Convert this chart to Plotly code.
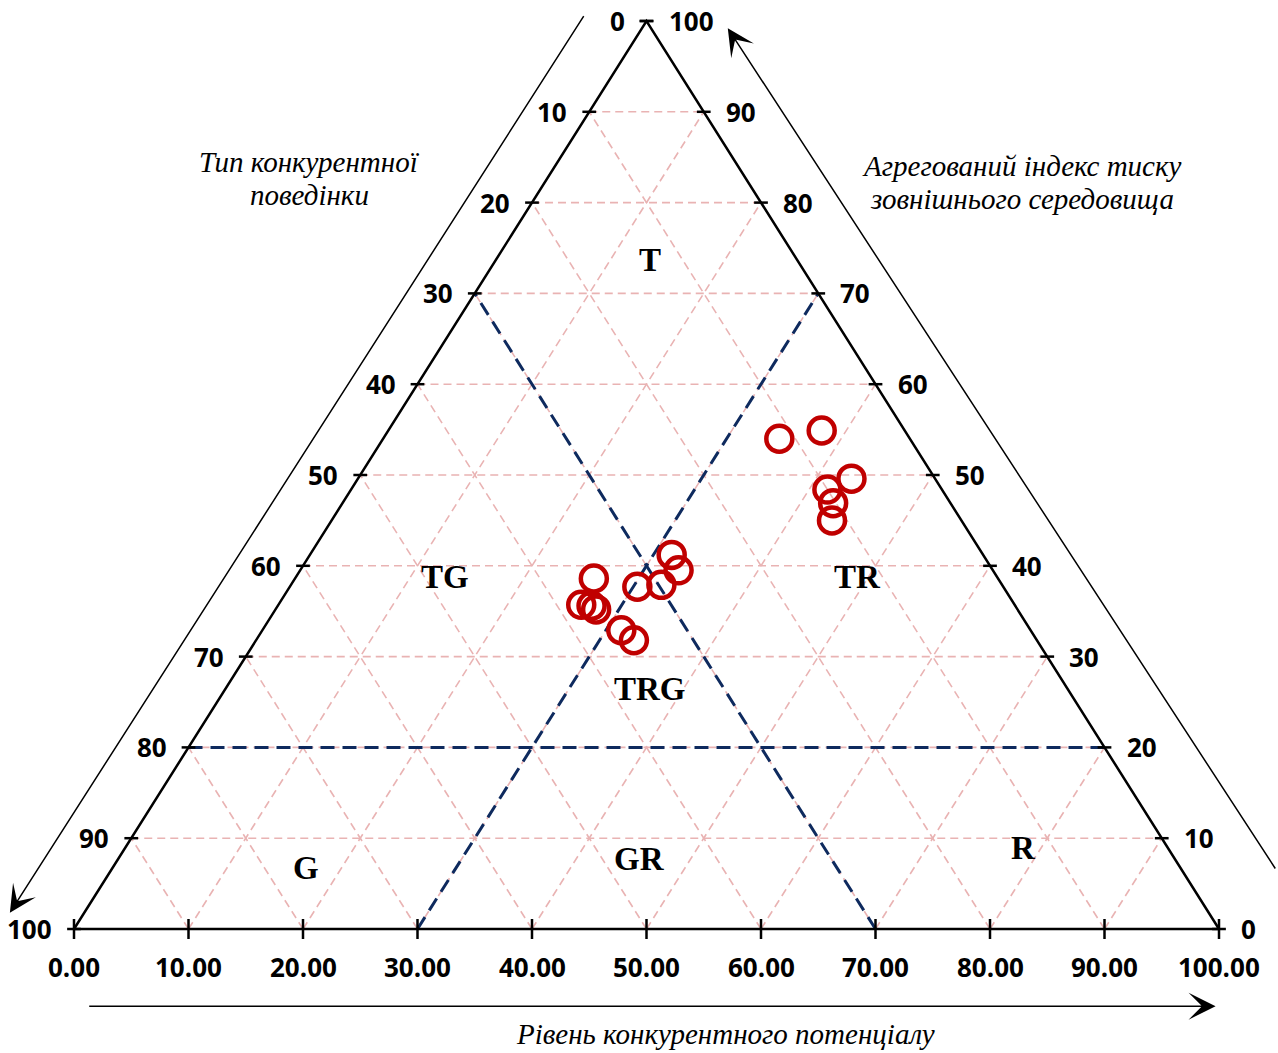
import plotly.graph_objects as go

# ---- data ----
potential = [61.6, 65.3, 67.9, 65.8, 66.3, 66.2, 52.2, 52.8, 51.3, 49.2, 45.4, 44.3, 45.2, 45.6, 47.8, 48.9]
pressure = [54.0, 54.9, 49.6, 48.4, 46.9, 45.0, 41.2, 39.5, 37.9, 37.7, 38.6, 35.7, 35.6, 35.2, 32.9, 31.8]

grid_vals = [10, 20, 30, 40, 50, 60, 70, 80, 90]
tick_vals = [0, 10, 20, 30, 40, 50, 60, 70, 80, 90, 100]
bottom_labels = ["0.00", "10.00", "20.00", "30.00", "40.00", "50.00", "60.00", "70.00", "80.00", "90.00", "100.00"]
left_labels = ["100", "90", "80", "70", "60", "50", "40", "30", "20", "10", "0"]
right_labels = ["0", "10", "20", "30", "40", "50", "60", "70", "80", "90", "100"]

region_names = ["T", "TG", "TR", "TRG", "G", "GR", "R"]
region_x = [50.3, 32.4, 68.4, 50.3, 20.3, 49.4, 82.9]
region_y = [73.7, 38.8, 38.8, 26.4, 6.7, 7.7, 8.9]

title_bottom = ["Рівень конкурентного потенціалу"]
title_left = ["Тип конкурентної", "поведінки"]
title_right = ["Агрегований індекс тиску", "зовнішнього середовища"]

# boundary thresholds for zones
zone_level = 20     # horizontal dashed line
zone_top = 70       # sloped dashed lines reach this level
zone_left_base = 30
zone_right_base = 70

# pixel geometry of the canvas (body margin removed via post_script)
W, H = 1278, 1053
X0PX, XSCALE = 74, 11.45
Y0PX, YSCALE = 929, 9.08

fig = go.Figure()

# ---- pink grid ----
gx, gy = [], []
for v in grid_vals:
    gx += [v / 2, 100 - v / 2, None]
    gy += [v, v, None]
    gx += [v, (100 + v) / 2, None]
    gy += [0, 100 - v, None]
    gx += [v, v / 2, None]
    gy += [0, v, None]
fig.add_trace(go.Scatter(x=gx, y=gy, mode="lines", hoverinfo="skip",
                         line=dict(color="#E9B3B3", width=1.6, dash="8px,5px"), showlegend=False))

# ---- navy dashed zone borders ----
nx = [zone_level / 2, 100 - zone_level / 2, None,
      zone_left_base, 100 - zone_top / 2, None,
      zone_right_base, zone_top / 2]
ny = [zone_level, zone_level, None,
      0, zone_top, None,
      0, zone_top]
fig.add_trace(go.Scatter(x=nx, y=ny, mode="lines", hoverinfo="skip",
                         line=dict(color="#0E2A5E", width=3, dash="14px,8px"), showlegend=False))

# ---- triangle ----
fig.add_trace(go.Scatter(x=[0, 100, 50, 0], y=[0, 0, 100, 0], mode="lines", hoverinfo="skip",
                         line=dict(color="black", width=2.5), showlegend=False))

# ---- tick marks ----
tx, ty = [], []
for v in tick_vals:
    tx += [v / 2 - 0.6, v / 2 + 0.6, None]
    ty += [v, v, None]
    tx += [100 - v / 2 - 0.6, 100 - v / 2 + 0.6, None]
    ty += [v, v, None]
    tx += [v, v, None]
    ty += [-1.1, 1.1, None]
fig.add_trace(go.Scatter(x=tx, y=ty, mode="lines", hoverinfo="skip",
                         line=dict(color="black", width=2.5), showlegend=False))

# ---- data points ----
fig.add_trace(go.Scatter(x=potential, y=pressure, mode="markers", showlegend=False,
                         marker=dict(symbol="circle-open", size=26, color="#C00000",
                                     line=dict(color="#C00000", width=4.5))))

ann = []
tick_font = dict(family="Open Sans", size=26, color="black")
for v, lab in zip(tick_vals, bottom_labels):
    ann.append(dict(x=v, y=0, text="<b>%s</b>" % lab, showarrow=False, xanchor="center",
                    yanchor="middle", yshift=-38, font=tick_font, borderpad=0))
for v, lab in zip(tick_vals, left_labels):
    ann.append(dict(x=v / 2, y=v, text="<b>%s</b>" % lab, showarrow=False, xanchor="right",
                    yanchor="middle", xshift=-21, font=tick_font, borderpad=0))
for v, lab in zip(tick_vals, right_labels):
    ann.append(dict(x=100 - v / 2, y=v, text="<b>%s</b>" % lab, showarrow=False, xanchor="left",
                    yanchor="middle", xshift=21, font=tick_font, borderpad=0))

for n, x, y in zip(region_names, region_x, region_y):
    ann.append(dict(x=x, y=y, text="<b>%s</b>" % n, showarrow=False,
                    font=dict(family="Liberation Serif", size=33, color="black")))

title_font = dict(family="Liberation Serif", size=29, color="black")


def add_title(lines, xc, y_first_px):
    for i, line in enumerate(lines):
        ypx = y_first_px + i * 33
        ann.append(dict(x=xc, y=(Y0PX - ypx) / YSCALE, text="<i>%s</i>" % line, showarrow=False,
                        xanchor="center", yanchor="middle", font=title_font, borderpad=0))


add_title(title_bottom, 56.9, 1034)
add_title(title_left, 20.6, 162)
add_title(title_right, 82.8, 166)

# arrows
arrow_common = dict(showarrow=True, arrowhead=3, arrowsize=3, arrowwidth=1.5, arrowcolor="black",
                    axref="x", ayref="y", text="")
ann.append(dict(x=-5.6, y=1.8, ax=44.6, ay=100.7, **arrow_common))
ann.append(dict(x=57.1, y=99.2, ax=105.0, ay=6.5, **arrow_common))
ann.append(dict(x=99.7, y=-8.5, ax=1.2, ay=-8.5, **arrow_common))

fig.update_layout(
    width=W, height=H,
    margin=dict(l=0, r=0, t=0, b=0),
    paper_bgcolor="white", plot_bgcolor="white",
    xaxis=dict(range=[-X0PX / XSCALE, (W - X0PX) / XSCALE], visible=False, fixedrange=True),
    yaxis=dict(range=[(Y0PX - H) / YSCALE, Y0PX / YSCALE], visible=False, fixedrange=True),
    annotations=ann,
)

fig.write_html("out.html", config={"displayModeBar": False},
               post_script="document.body.style.margin='0px';document.body.style.overflow='hidden';")
